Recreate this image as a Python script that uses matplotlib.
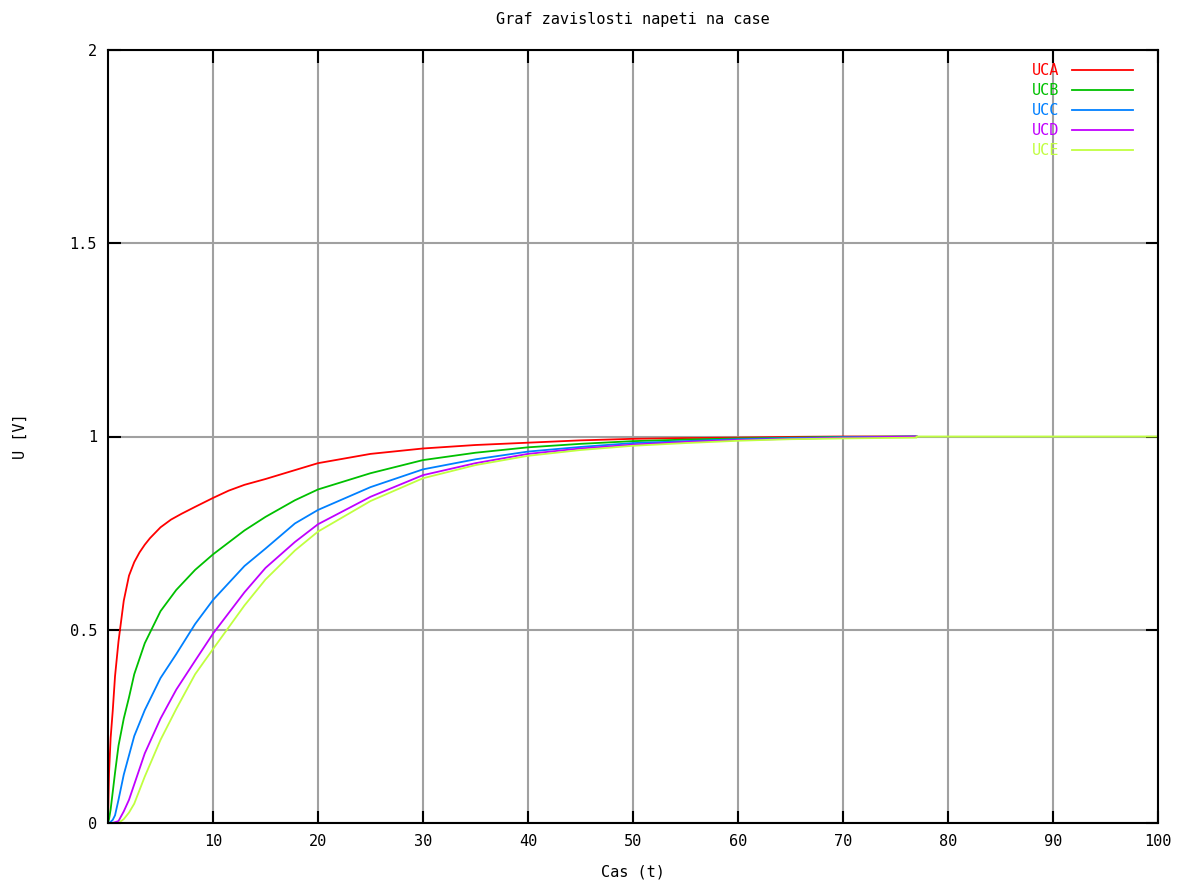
import matplotlib
matplotlib.use("Agg")
import matplotlib.pyplot as plt

t = [0, 0.1, 0.25, 0.45, 0.67, 1.0, 1.5, 2, 2.5, 3.5, 5, 6.5, 8.3, 10, 13, 15,
     17.8, 20, 25, 30, 35, 40, 45, 50, 55, 60, 65, 70, 77]
t_a = [0, 0.1, 0.25, 0.45, 0.67, 1.0, 1.5, 2, 2.5, 3, 3.5, 4, 5, 6, 7, 8.3, 10,
       11.5, 13, 15, 17.8, 20, 25, 30, 35, 40, 45, 50, 55, 60, 65, 70, 77]

uca = [0, 0.13, 0.22, 0.29, 0.38, 0.47, 0.575, 0.64, 0.675, 0.70, 0.72, 0.737,
       0.765, 0.785, 0.80, 0.818, 0.841, 0.86, 0.875, 0.89, 0.913, 0.931, 0.955,
       0.969, 0.978, 0.984, 0.99, 0.994, 0.996, 0.997, 0.999, 1.0, 1.0]
ucb = [0, 0.01, 0.035, 0.08, 0.13, 0.2, 0.27, 0.325, 0.385, 0.465, 0.548, 0.603,
       0.655, 0.695, 0.757, 0.792, 0.835, 0.863, 0.905, 0.939, 0.958, 0.972, 0.981,
       0.988, 0.992, 0.995, 0.997, 0.999, 1.0]
ucc = [0, 0, 0.003, 0.008, 0.02, 0.06, 0.125, 0.175, 0.225, 0.292, 0.375, 0.437,
       0.515, 0.577, 0.665, 0.71, 0.775, 0.81, 0.869, 0.915, 0.941, 0.961, 0.973,
       0.983, 0.988, 0.993, 0.996, 0.998, 1.0]
ucd = [0, 0, 0, 0, 0.002, 0.005, 0.03, 0.06, 0.1, 0.18, 0.27, 0.345, 0.42, 0.49,
       0.597, 0.66, 0.727, 0.773, 0.844, 0.9, 0.931, 0.955, 0.969, 0.979, 0.986,
       0.991, 0.994, 0.997, 1.0]
t_e = t + [77.01, 100]
uce = [0, 0, 0, 0, 0, 0, 0.01, 0.027, 0.05, 0.12, 0.215, 0.295, 0.385, 0.45,
       0.563, 0.63, 0.705, 0.754, 0.833, 0.892, 0.926, 0.95, 0.965, 0.976, 0.983,
       0.989, 0.993, 0.995, 0.997, 1.0, 1.0]

series = [("UCA", t_a, uca, "#ff0000"),
          ("UCB", t, ucb, "#00c000"),
          ("UCC", t, ucc, "#0080ff"),
          ("UCD", t, ucd, "#c000ff"),
          ("UCE", t_e, uce, "#c0ff40")]

x_ticks = [10, 20, 30, 40, 50, 60, 70, 80, 90, 100]
y_ticks = [0, 0.5, 1, 1.5, 2]
y_labels = ["0", "0.5", "1", "1.5", "2"]

plt.rcParams['font.family'] = ['DejaVu Sans Mono']

fig = plt.figure(figsize=(11.83, 8.83), dpi=100)
ax = fig.add_axes([108 / 1183, 1 - 823 / 883, 1050 / 1183, 773 / 883])

for name, xs, ys, col in series:
    ax.plot(xs, ys, color=col, linewidth=1.3, label=name)

ax.set_xlim(0, 100)
ax.set_ylim(0, 2)
ax.set_xticks(x_ticks)
ax.set_yticks(y_ticks)
ax.set_yticklabels(y_labels)
ax.grid(True, color='#a0a0a0', linewidth=1.5)
ax.set_axisbelow(True)
ax.tick_params(direction='in', length=9, width=1.5, top=True, right=True,
               labelsize=11, pad=8)
for s in ax.spines.values():
    s.set_linewidth(1.5)

ax.set_xlabel("Cas (t)", fontsize=11, labelpad=11)
ax.set_ylabel("U [V]", fontsize=11, labelpad=30)
ax.set_title("Graf zavislosti napeti na case", fontsize=11, pad=19)

leg = ax.legend(loc='upper right', frameon=False, markerfirst=False,
                labelcolor='linecolor', fontsize=11, handlelength=4.0,
                labelspacing=0.33, borderaxespad=0,
                bbox_to_anchor=(1 - 19 / 1050, 1 - 7 / 773))

fig.savefig("out.png", dpi=100)
